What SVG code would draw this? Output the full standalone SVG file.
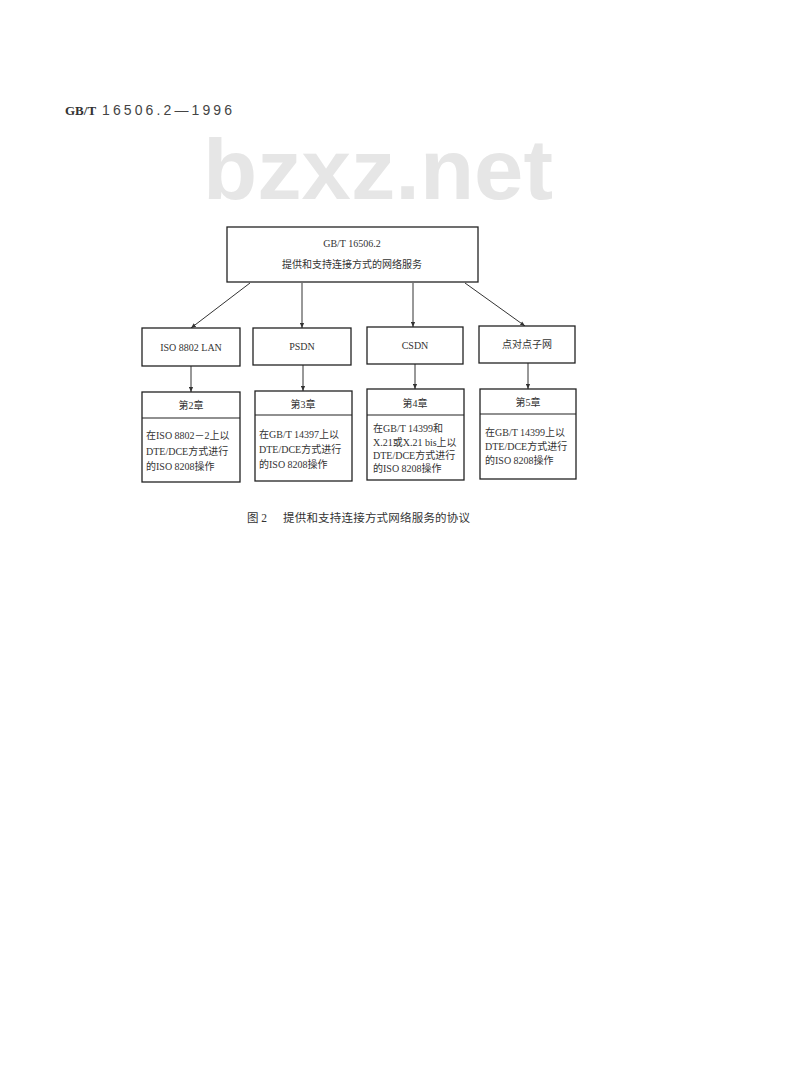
<svg xmlns="http://www.w3.org/2000/svg" width="800" height="1091" viewBox="0 0 800 1091">
<style>
.box{fill:#fff;stroke:#222;stroke-width:1.3}
.t{font-family:"Liberation Serif","Noto Sans CJK SC",serif;font-size:10px;fill:#333}
.c{text-anchor:middle}
.con line{stroke:#333;stroke-width:1}
</style>
<defs>
<marker id="ah" viewBox="0 0 6 6" refX="6" refY="3" markerWidth="5" markerHeight="5" orient="auto">
<path d="M0,0.5 L6,3 L0,5.5 z" fill="#333"/>
</marker>
</defs>
<rect width="800" height="1091" fill="#fff"/>
<text x="65" y="115" font-family="Liberation Serif,serif" font-weight="bold" font-size="13" fill="#333">GB/T</text>
<text x="102" y="115" font-family="Liberation Sans,sans-serif" font-size="14" fill="#444" textLength="130" lengthAdjust="spacing">16506.2—1996</text>
<text x="203" y="199" font-family="Liberation Sans,sans-serif" font-weight="bold" font-size="86" fill="#e6e6e6" textLength="350" lengthAdjust="spacingAndGlyphs">bzxz.net</text>

<g class="con">
<line x1="250" y1="283" x2="191" y2="328" marker-end="url(#ah)"/>
<line x1="302" y1="283" x2="302" y2="328" marker-end="url(#ah)"/>
<line x1="413" y1="283" x2="413" y2="327" marker-end="url(#ah)"/>
<line x1="465" y1="283" x2="525" y2="326" marker-end="url(#ah)"/>
<line x1="191" y1="366" x2="191" y2="392" marker-end="url(#ah)"/>
<line x1="303" y1="365" x2="303" y2="391" marker-end="url(#ah)"/>
<line x1="415" y1="364" x2="415" y2="389" marker-end="url(#ah)"/>
<line x1="528" y1="363" x2="528" y2="389" marker-end="url(#ah)"/>
</g>

<g id="top">
<rect class="box" x="227" y="227" width="251" height="55"/>
<text class="t c" x="352" y="247">GB/T 16506.2</text>
<text class="t c" x="352" y="268">提供和支持连接方式的网络服务</text>
</g>

<g id="lan">
<rect class="box" x="142" y="328" width="98" height="38"/>
<text class="t c" x="191" y="351">ISO 8802 LAN</text>
</g>
<g id="psdn">
<rect class="box" x="253" y="328" width="98" height="37"/>
<text class="t c" x="302" y="350">PSDN</text>
</g>
<g id="csdn">
<rect class="box" x="367" y="327" width="96" height="37"/>
<text class="t c" x="415" y="349">CSDN</text>
</g>
<g id="p2p">
<rect class="box" x="479" y="326" width="96" height="37"/>
<text class="t c" x="527" y="348">点对点子网</text>
</g>

<g id="ch2">
<rect class="box" x="142" y="392" width="98" height="90"/>
<line x1="142" y1="418" x2="240" y2="418" stroke="#222" stroke-width="1.2"/>
<text class="t c" x="191" y="409">第2章</text>
<text class="t" x="146" y="439">在ISO 8802－2上以</text>
<text class="t" x="146" y="455">DTE/DCE方式进行</text>
<text class="t" x="146" y="470">的ISO 8208操作</text>
</g>
<g id="ch3">
<rect class="box" x="255" y="391" width="97" height="90"/>
<line x1="255" y1="415" x2="352" y2="415" stroke="#222" stroke-width="1.2"/>
<text class="t c" x="303" y="408">第3章</text>
<text class="t" x="259" y="438">在GB/T 14397上以</text>
<text class="t" x="259" y="453">DTE/DCE方式进行</text>
<text class="t" x="259" y="468">的ISO 8208操作</text>
</g>
<g id="ch4">
<rect class="box" x="367" y="389" width="97" height="91"/>
<line x1="367" y1="415" x2="464" y2="415" stroke="#222" stroke-width="1.2"/>
<text class="t c" x="415" y="407">第4章</text>
<text class="t" x="373" y="432">在GB/T 14399和</text>
<text class="t" x="373" y="446">X.21或X.21 bis上以</text>
<text class="t" x="373" y="459">DTE/DCE方式进行</text>
<text class="t" x="373" y="472">的ISO 8208操作</text>
</g>
<g id="ch5">
<rect class="box" x="480" y="389" width="96" height="90"/>
<line x1="480" y1="414" x2="576" y2="414" stroke="#222" stroke-width="1.2"/>
<text class="t c" x="528" y="406">第5章</text>
<text class="t" x="485" y="436">在GB/T 14399上以</text>
<text class="t" x="485" y="450">DTE/DCE方式进行</text>
<text class="t" x="485" y="464">的ISO 8208操作</text>
</g>

<text x="247" y="522" font-family="Liberation Serif,Noto Sans CJK SC,serif" font-size="11.5" fill="#333">图 2</text>
<text x="283" y="522" font-family="Liberation Serif,Noto Sans CJK SC,serif" font-size="11.5" fill="#333" textLength="187" lengthAdjust="spacing">提供和支持连接方式网络服务的协议</text>
</svg>
